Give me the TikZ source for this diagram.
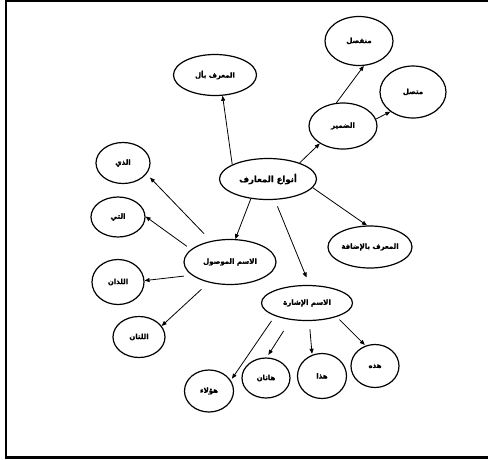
\documentclass[tikz,border=0pt]{standalone}
\usepackage{fontspec}
\newfontfamily\arfont[Script=Arabic,FakeBold=1.2]{DejaVu Sans Bold}
\TeXXeTstate=1
\usetikzlibrary{shapes.geometric,arrows.meta}
\newcommand{\ar}[1]{\beginR #1\endR}
\begin{document}
\begin{tikzpicture}[x=1pt,y=-1pt,
  oval/.style={ellipse,draw,line width=1.2pt,inner sep=0pt,
    font=\arfont\fontsize{7}{8}\selectfont},
  arr/.style={line width=0.8pt,-{Triangle[length=5pt,width=4pt]}},
  frame/.style={line width=2.2pt}]
\useasboundingbox (0,0) rectangle (488,459);
% frame (open on the right)
\coordinate (tr) at (488,1);
\coordinate (tl) at (6,1);
\coordinate (bl) at (6,457.5);
\coordinate (br) at (488,457.5);
\draw[frame] (tr) -- (tl) -- (bl) -- (br);
% nodes
\node[oval,minimum width=97,minimum height=41,font=\arfont\fontsize{8.5}{9}\selectfont] (main) at (268,179) {\ar{أنواع المعارف}};
\node[oval,minimum width=83,minimum height=41] (alif) at (215,75) {\ar{المعرف بأل}};
\node[oval,minimum width=68,minimum height=49] (munf) at (359,41) {\ar{منفصل}};
\node[oval,minimum width=66,minimum height=52] (mutt) at (413,92) {\ar{متصل}};
\node[oval,minimum width=68,minimum height=46] (damir) at (343,126) {\ar{الضمير}};
\node[oval,minimum width=84,minimum height=42] (idafa) at (370,247) {\ar{المعرف بالإضافة}};
\node[oval,minimum width=54,minimum height=41] (alladhi) at (123,163) {\ar{الذي}};
\node[oval,minimum width=54,minimum height=40] (allati) at (118,217) {\ar{التي}};
\node[oval,minimum width=92,minimum height=45] (mawsul) at (230,262) {\ar{الاسم الموصول}};
\node[oval,minimum width=52,minimum height=45] (alladhan) at (118,282) {\ar{اللذان}};
\node[oval,minimum width=52,minimum height=41] (allatan) at (139,337) {\ar{اللتان}};
\node[oval,minimum width=91,minimum height=35] (ishara) at (307,303) {\ar{الاسم الإشارة}};
\node[oval,minimum width=49,minimum height=42] (haula) at (209,391) {\ar{هؤلاء}};
\node[oval,minimum width=48,minimum height=40] (hatan) at (266,378) {\ar{هاتان}};
\node[oval,minimum width=49,minimum height=45] (hadha) at (322,376) {\ar{هذا}};
\node[oval,minimum width=48,minimum height=43] (hadhihi) at (375,366) {\ar{هذه}};
% connectors
\draw[arr] (main.158) -- (alif.-70);
\draw[arr] (main.27) -- (damir.217);
\draw[arr] (damir.106) -- (munf.-79);
\draw[arr] (damir.12) -- (mutt.221);
\draw[arr] (main.-11) -- (idafa.98);
\draw[arr] (main.229) -- (mawsul.77);
\draw[arr,shorten <=7pt,shorten >=8pt] (main.-72) -- (ishara.82);
\draw[arr,shorten <=10pt,shorten >=5pt] (mawsul.132) -- (alladhi.-25);
\draw[arr,shorten <=5pt] (mawsul.162) -- (allati.1);
\draw[arr,shorten <=8pt] (mawsul.199) -- (alladhan.3);
\draw[arr,shorten <=10pt] (mawsul.224) -- (allatan.26);
\draw[arr,shorten <=6pt,shorten >=2pt] (ishara.202) -- (haula.26);
\draw[arr,shorten <=13pt,shorten >=3pt] (ishara.226) -- (hatan.88);
\draw[arr,shorten <=8pt,shorten >=1pt] (ishara.-83) -- (hadha.115);
\draw[arr,shorten <=4pt,shorten >=1pt] (ishara.-25) -- (hadhihi.115);
\end{tikzpicture}
\end{document}
